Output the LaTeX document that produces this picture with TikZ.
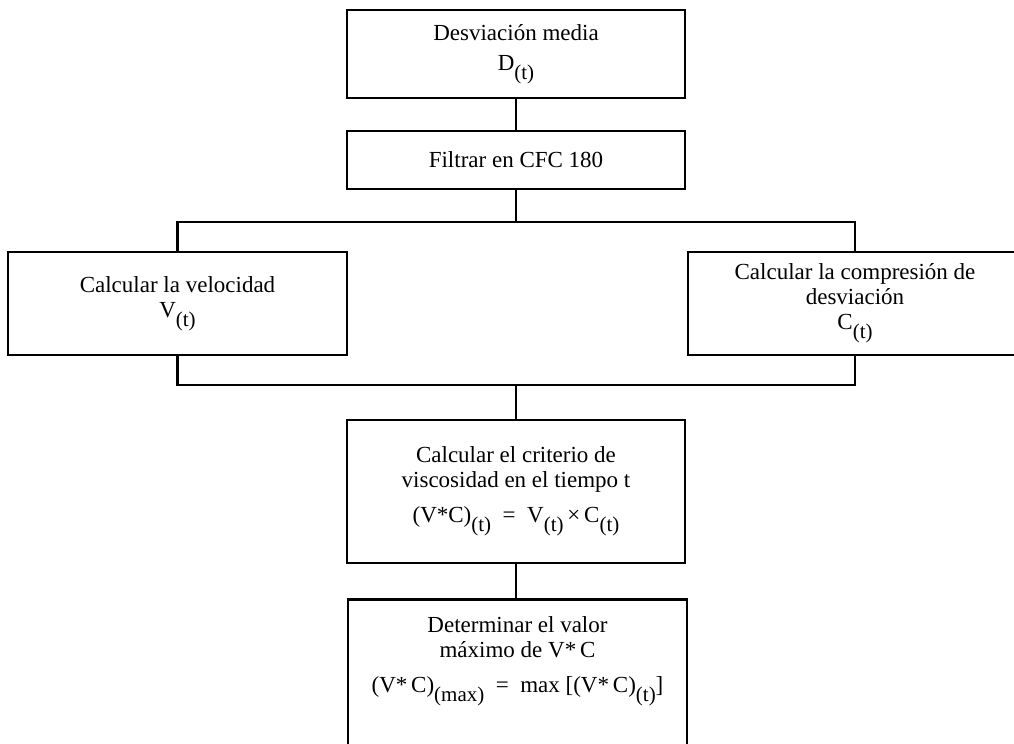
\documentclass[tikz,border=0pt]{standalone}
\usepackage{fontspec}
\setmainfont{Liberation Serif}
\usepackage{tikz}
\tikzstyle{box}=[rectangle,draw=black,line width=1.3pt,align=center,
  inner sep=0pt,font=\fontsize{11.5}{12.5}\selectfont]
\tikzstyle{txt}=[align=center,inner sep=0pt,font=\fontsize{11.5}{12.5}\selectfont]
\tikzstyle{wire}=[line width=1.3pt]
\newcommand{\lowsub}[1]{\raisebox{-0.4em}{\fontsize{10.5}{11}\selectfont #1}}

\begin{document}
\begin{tikzpicture}[x=0.5pt,y=-0.5pt]
            \useasboundingbox (0,0) rectangle (1014,744);
            \clip (0,0) rectangle (1014,744);
            \node [style=box, minimum width=169pt, minimum height=44pt] (desv) at (516, 54) {Desviación media\\[2.5pt]D\lowsub{(t)}};
            \node [style=box, minimum width=169pt, minimum height=29pt] (filt) at (516, 160) {Filtrar en CFC 180};
            \node [style=box, minimum width=169.5pt, minimum height=51.5pt] (vel) at (177.5, 303.5) {Calcular la velocidad\\V\lowsub{(t)}};
            \node [style=box, minimum width=167pt, minimum height=51.5pt] (comp) at (855, 303.5) {Calcular la compresión de\\desviación\\C\lowsub{(t)}};
            \node [style=box, minimum width=169pt, minimum height=71.5pt] (crit) at (516, 491.5) {Calcular el criterio de\\viscosidad en el tiempo t\\[5pt](V*C)\lowsub{(t)}\enspace=\enspace V\lowsub{(t)}\,×\,C\lowsub{(t)}};
            \node [style=box, minimum width=169.5pt, minimum height=110pt, anchor=north] (maxi) at (517.5, 598) {};
            \node [style=txt, anchor=north] (maxitxt) at (517.5, 616) {Determinar el valor\\máximo de V*\,C\\[5pt](V*\,C)\lowsub{(max)}\enspace=\enspace max [(V*\,C)\lowsub{(t)}]};
            \coordinate (split) at (516, 222);
            \coordinate (merge) at (516, 385);
            \draw [style=wire] (desv.south) to (filt.north);
            \draw [style=wire] (filt.south) to (split);
            \draw [style=wire] (vel.north) |- (split) -| (comp.north);
            \draw [style=wire] (vel.south) |- (merge) -| (comp.south);
            \draw [style=wire] (merge) to (crit.north);
            \draw [style=wire] (crit.south) to (crit.south |- maxi.north);
    \end{tikzpicture}
\end{document}
